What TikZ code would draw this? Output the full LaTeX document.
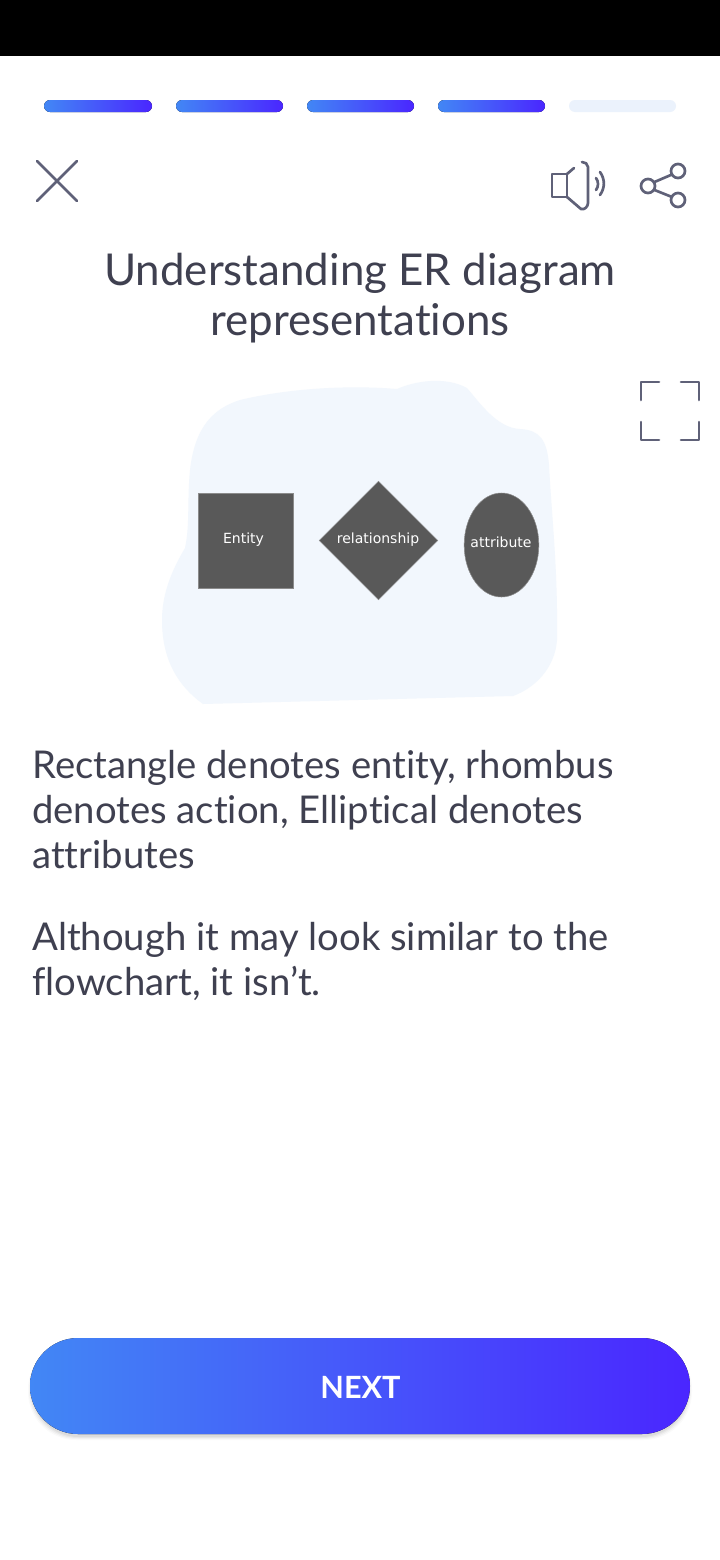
\documentclass[tikz,border=0pt]{standalone}
\usepackage{fontspec}
\setmainfont[Ligatures=NoCommon]{Lato}
\newfontfamily\labelfont{DejaVu Sans}
\usetikzlibrary{shapes.geometric}
\definecolor{lessonInk}{HTML}{3F4050}
\definecolor{iconSlate}{HTML}{5F6178}
\definecolor{gradStart}{HTML}{4287F5}
\definecolor{gradEnd}{HTML}{4A26FF}
\definecolor{barIdle}{HTML}{EBF2FC}
\definecolor{blobTint}{HTML}{F2F7FD}
\definecolor{shapeGray}{HTML}{595959}
\tikzset{
  gradbar/.style={left color=gradStart, right color=gradEnd},
  icon/.style={draw=iconSlate, line width=2pt, line cap=round, line join=round},
  ershape/.style={fill=shapeGray, draw=shapeGray!70, line width=0.4pt, inner sep=0pt},
  erlabel/.style={text=white, inner sep=0pt, font=\labelfont\fontsize{10.5}{12}\selectfont},
  bodytext/.style={anchor=north west, align=left, text=lessonInk, inner sep=0pt, font=\fontsize{28.7}{33.75}\selectfont}
}

\begin{document}
\begin{tikzpicture}[x=0.75pt, y=-0.75pt]
            \useasboundingbox (0,0) rectangle (720,1560);
            \fill[white] (0,0) rectangle (720,1560);
            \fill[black] (0,0) rectangle (720,56);
            % progress bars
            \foreach \x/\xx in {44/152,176/283,307/414,438/545}{
                \fill[gradbar, rounded corners=4.5pt] (\x,100) rectangle (\xx,112);
            }
            \fill[barIdle, rounded corners=4.5pt] (569,100) rectangle (676,112);
            % close
            \draw[icon] (37,161) -- (77,201) (77,161) -- (37,201);
            % speaker
            \draw[icon] (552,174) rectangle (567,197);
            \draw[icon] (567,174) -- (574,168);
            \draw[icon] (567,197) -- (581,209) to[out=-20,in=-90] (588,203) -- (588,167) to[out=90,in=0] (582,162);
            \draw[icon] (596,178) to[bend left=35] (596,190);
            \draw[icon] (600,172) to[bend left=35] (600,195);
            % share
            \draw[icon] (648,186) circle (7);
            \draw[icon] (678,171) circle (7);
            \draw[icon] (678,200) circle (7);
            \draw[icon] (654.5,182) -- (672,174.5) (654.5,190) -- (672,197);
            % title
            \node[anchor=north, align=center, text=lessonInk, inner sep=0pt, font=\fontsize{32.9}{37.5}\selectfont] (titletext) at (360,253) {Understanding ER diagram\\representations};
            % expand corners
            \draw[icon] (641,400) -- (641,382) -- (659,382);
            \draw[icon] (681,382) -- (699,382) -- (699,400);
            \draw[icon] (641,422) -- (641,440) -- (659,440);
            \draw[icon] (681,440) -- (699,440) -- (699,422);
            % blob
            \fill[blobTint] (397,389) .. controls (415,381) and (445,376) .. (467,388)
                .. controls (480,403) and (497,428) .. (520,429)
                .. controls (540,430) and (547,440) .. (549,465)
                .. controls (552,520) and (558,570) .. (557,640)
                .. controls (555,668) and (535,688) .. (513,696)
                -- (203,704)
                .. controls (178,686) and (162,660) .. (162,620)
                .. controls (162,590) and (175,565) .. (185,548)
                .. controls (190,525) and (187,500) .. (190,470)
                .. controls (195,425) and (215,408) .. (240,400)
                .. controls (290,388) and (350,385) .. (397,389) -- cycle;
            % er shapes
            \node[ershape, rectangle, minimum size=71.5pt] (entity) at (246,541) {};
            \node[erlabel] (entitylbl) at (243.5,540) {Entity};
            \node[ershape, diamond, minimum width=89pt, minimum height=89pt] (relation) at (378.5,540.5) {};
            \node[erlabel] (relationlbl) at (378,540) {relationship};
            \node[ershape, ellipse, minimum width=56pt, minimum height=78pt] (attrib) at (501.5,545) {};
            \node[erlabel] (attriblbl) at (501,542) {attribute};
            % body
            \node[bodytext] (para1) at (32,750) {Rectangle denotes entity, rhombus\\denotes action, Elliptical denotes\\attributes};
            \node[bodytext] (para2) at (32,922) {Although it may look similar to the\\flowchart, it isn’t.};
            % button
            \foreach \k/\op in {1/0.02,2/0.03,3/0.04,4/0.05}{
                \fill[black, opacity=\op, rounded corners=36pt] ({30-3+\k},{1340+\k}) rectangle ({690+3-\k},{1434+7-\k});
            }
            \fill[gradbar, rounded corners=36pt] (30,1338) rectangle (690,1434);
            \node[text=white, inner sep=0pt, font=\fontsize{23}{28}\bfseries\selectfont] (nextbtn) at (360.5,1387) {NEXT};
        \end{tikzpicture}
\end{document}
